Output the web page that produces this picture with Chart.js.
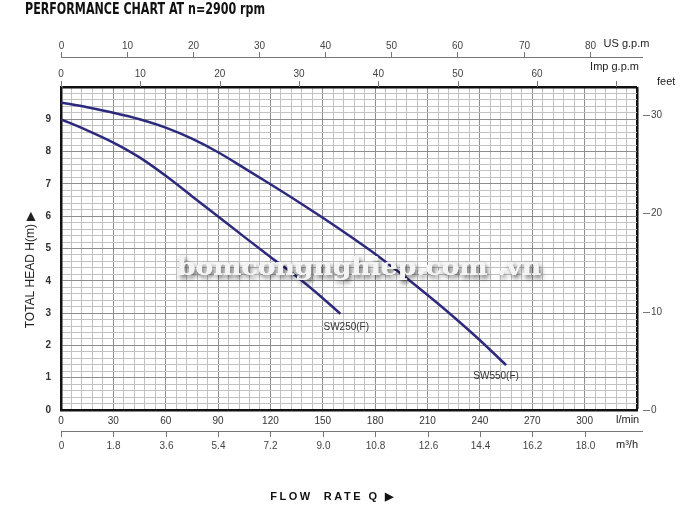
<!DOCTYPE html>
<html>
<head>
<meta charset="utf-8">
<script src="https://cdn.jsdelivr.net/npm/chart.js@4"></script>
<style>
  html, body { margin: 0; padding: 0; background: #fff; }
  #wrap { width: 693px; height: 516px; position: relative; }
</style>
</head>
<body>
<div id="wrap"><canvas id="c"></canvas></div>
<script>
// ---- data ----
const q550 = [0, 15, 30, 45, 60, 75, 90, 105, 120, 135, 150, 165, 180, 195, 210, 225, 240, 255];
const h550 = [9.52, 9.37, 9.2, 9.0, 8.74, 8.40, 7.98, 7.49, 6.99, 6.48, 5.95, 5.40, 4.83, 4.21, 3.56, 2.88, 2.16, 1.39];
const q250 = [0, 15, 30, 45, 60, 75, 90, 105, 120, 135, 150, 160];
const h250 = [9.0, 8.66, 8.28, 7.82, 7.25, 6.62, 5.99, 5.36, 4.74, 4.13, 3.46, 2.98];
const seriesNames = ['SW550(F)', 'SW250(F)'];

const lpmLabels = [0, 30, 60, 90, 120, 150, 180, 210, 240, 270, 300];
const headLabels = [0, 1, 2, 3, 4, 5, 6, 7, 8, 9];
const m3hTicks = ['0', '1.8', '3.6', '5.4', '7.2', '9.0', '10.8', '12.6', '14.4', '16.2', '18.0'];
const usGpmTicks = [0, 10, 20, 30, 40, 50, 60, 70, 80];
const impGpmTicks = [0, 10, 20, 30, 40, 50, 60, 70];
const impGpmLabels = [0, 10, 20, 30, 40, 50, 60];
const feetTicks = [0, 10, 20, 30];

const Q_MAX = 330, H_MAX = 10, Q_MINOR = 6, H_MINOR = 0.2;
const US_GPM = 3.78541, IMP_GPM = 4.54609, M3H = 1000 / 60, FOOT = 0.3048;

const xGrid = [];
for (let i = 0; i <= Q_MAX / Q_MINOR; i++) xGrid.push(i * Q_MINOR);
const yGrid = [];
for (let i = 0; i <= Math.round(H_MAX / H_MINOR); i++) yGrid.push(Math.round(i * H_MINOR * 10) / 10);

const LINE = '#2d2a7e';
const MAJOR = '#8e8e8e', MINOR = '#c2c2c2';
const TXT = '#333';
const FONT = "'Liberation Sans', Arial, sans-serif";

const toPts = (q, h) => q.map((v, i) => ({ x: v, y: h[i] }));

const extras = {
  id: 'extras',
  afterDatasetsDraw(chart) {
    const c = chart.ctx, xs = chart.scales.x, ys = chart.scales.y;
    const L = xs.left, R = xs.right, T = ys.top, B = ys.bottom;
    c.save();
    // curve labels, anchored to last point of each series
    c.font = '10px ' + FONT; c.fillStyle = TXT; c.textAlign = 'center'; c.textBaseline = 'middle';
    c.fillText(seriesNames[1], xs.getPixelForValue(q250[q250.length - 1]) + 6, ys.getPixelForValue(h250[h250.length - 1]) + 14);
    c.fillText(seriesNames[0], xs.getPixelForValue(q550[q550.length - 1]) - 10, ys.getPixelForValue(h550[h550.length - 1]) + 11);

    // watermark
    c.save();
    const wm = 'bomcongnghiep.com .vn';
    c.font = "bold 25px 'DejaVu Serif', 'Liberation Serif', serif";
    const w = c.measureText(wm).width;
    const target = 364;
    c.translate(177, 268);
    c.scale(target / w, 1);
    c.textAlign = 'left'; c.textBaseline = 'middle';
    c.shadowColor = 'rgba(0,0,0,0.65)'; c.shadowBlur = 5; c.shadowOffsetX = 2; c.shadowOffsetY = 3;
    c.fillStyle = '#ffffff';
    c.fillText(wm, 0, 0);
    c.shadowColor = 'transparent';
    c.fillStyle = '#f4f4f4';
    c.fillText(wm, 0, 0);
    c.restore();

    // title
    c.save();
    const title = 'PERFORMANCE CHART AT n=2900 rpm';
    c.font = "bold 15px 'Liberation Sans Narrow', 'DejaVu Sans Condensed', 'Liberation Sans', sans-serif";
    const tw = c.measureText(title).width;
    c.translate(25, 10);
    c.scale(240 / tw, 1);
    c.fillStyle = '#111'; c.textAlign = 'left'; c.textBaseline = 'middle';
    c.fillText(title, 0, 0);
    c.restore();

    // US gpm axis (top)
    c.strokeStyle = '#777'; c.lineWidth = 1;
    c.beginPath(); c.moveTo(L, 57.5); c.lineTo(R + 6, 57.5); c.stroke();
    c.font = '10px ' + FONT; c.fillStyle = '#444'; c.textAlign = 'center'; c.textBaseline = 'middle';
    usGpmTicks.forEach(v => {
      const px = Math.round(xs.getPixelForValue(v * US_GPM)) + 0.5;
      c.beginPath(); c.moveTo(px, 52); c.lineTo(px, 57.5); c.stroke();
      c.fillText(String(v), px, 46);
    });
    c.fillStyle = '#222'; c.textAlign = 'left';
    c.font = '11px ' + FONT;
    c.fillText('US g.p.m', xs.getPixelForValue(80 * US_GPM) + 14, 44);

    // Imp gpm axis
    c.font = '10px ' + FONT; c.fillStyle = '#444'; c.textAlign = 'center';
    impGpmTicks.forEach(v => {
      const px = Math.round(xs.getPixelForValue(v * IMP_GPM)) + 0.5;
      c.beginPath(); c.moveTo(px, T - 6); c.lineTo(px, T); c.stroke();
    });
    impGpmLabels.forEach(v => c.fillText(String(v), xs.getPixelForValue(v * IMP_GPM), 74));
    c.fillStyle = '#222'; c.textAlign = 'right'; c.font = '11px ' + FONT;
    c.fillText('Imp g.p.m', R + 2, 67);

    // feet axis (right)
    c.textAlign = 'left'; c.font = '10px ' + FONT; c.fillStyle = '#444';
    feetTicks.forEach(v => {
      const py = Math.round(ys.getPixelForValue(v * FOOT)) + 0.5;
      c.beginPath(); c.moveTo(R + 6, py); c.lineTo(R + 13, py); c.stroke();
      c.fillText(String(v), R + 14, py);
    });
    c.fillStyle = '#222'; c.font = '11px ' + FONT;
    c.fillText('feet', R + 20, 82);

    // l/min unit
    c.fillStyle = '#222'; c.font = '11px ' + FONT; c.textAlign = 'left';
    c.fillText('l/min', R - 21, 420);

    // m3/h axis (bottom)
    c.strokeStyle = '#777';
    c.beginPath(); c.moveTo(L, 431.5); c.lineTo(R + 6, 431.5); c.stroke();
    c.font = '10px ' + FONT; c.fillStyle = '#444'; c.textAlign = 'center';
    m3hTicks.forEach(lbl => {
      const px = Math.round(xs.getPixelForValue(parseFloat(lbl) * M3H)) + 0.5;
      c.beginPath(); c.moveTo(px, 431.5); c.lineTo(px, 437); c.stroke();
      c.fillText(lbl, px, 446);
    });
    c.fillStyle = '#222'; c.font = '11px ' + FONT; c.textAlign = 'left';
    c.fillText('m\u00b3/h', R - 21, 445);

    // y axis title
    c.save();
    c.translate(31, 270);
    c.rotate(-Math.PI / 2);
    c.font = '12px ' + FONT; c.fillStyle = '#222'; c.textAlign = 'center';
    c.fillText('TOTAL HEAD H(m) \u25B6', 0, 0);
    c.restore();

    // x axis title
    c.save();
    c.font = "bold 11px " + FONT; c.fillStyle = '#111'; c.textAlign = 'left';
    c.letterSpacing = '2.5px';
    const ft = 'FLOW  RATE Q \u25B6';
    const fw = c.measureText(ft).width;
    c.fillText(ft, 333 - fw / 2, 497);
    c.restore();

    c.restore();
  }
};

new Chart(document.getElementById('c'), {
  type: 'scatter',
  data: {
    datasets: [
      { label: seriesNames[0], data: toPts(q550, h550), showLine: true, borderColor: LINE, borderWidth: 2.5, pointRadius: 0, cubicInterpolationMode: 'monotone', fill: false },
      { label: seriesNames[1], data: toPts(q250, h250), showLine: true, borderColor: LINE, borderWidth: 2.5, pointRadius: 0, cubicInterpolationMode: 'monotone', fill: false }
    ]
  },
  options: {
    animation: false,
    responsive: true,
    maintainAspectRatio: false,
    layout: { padding: { top: 87, right: 56, bottom: 82, left: 0 } },
    plugins: { legend: { display: false }, tooltip: { enabled: false }, title: { display: false } },
    scales: {
      x: {
        type: 'linear', min: 0, max: Q_MAX,
        afterBuildTicks: s => { s.ticks = xGrid.map(v => ({ value: v })); },
        afterFit: s => { s.height = 24; },
        ticks: {
          autoSkip: false, maxRotation: 0, padding: 5,
          color: TXT, font: { family: FONT, size: 10 },
          callback: v => lpmLabels.includes(v) ? String(v) : ''
        },
        grid: {
          drawTicks: false,
          color: c => c.tick.value === Q_MAX ? '#111' : (c.tick.value % 30 === 0 ? MAJOR : MINOR),
          lineWidth: c => c.tick.value === Q_MAX ? 2.5 : 1
        },
        border: { color: '#111', width: 2.5 }
      },
      y: {
        type: 'linear', min: 0, max: H_MAX,
        afterBuildTicks: s => { s.ticks = yGrid.map(v => ({ value: v })); },
        afterFit: s => { s.width = 61; },
        ticks: {
          autoSkip: false, padding: 10,
          color: TXT, font: { family: FONT, size: 10, weight: 'bold' },
          callback: v => headLabels.includes(v) ? String(v) : ''
        },
        grid: {
          drawTicks: false,
          color: c => c.tick.value === H_MAX ? '#111' : (Number.isInteger(c.tick.value) ? MAJOR : MINOR),
          lineWidth: c => c.tick.value === H_MAX ? 2.5 : 1
        },
        border: { color: '#111', width: 2.5 }
      }
    }
  },
  plugins: [extras]
});
</script>
</body>
</html>
